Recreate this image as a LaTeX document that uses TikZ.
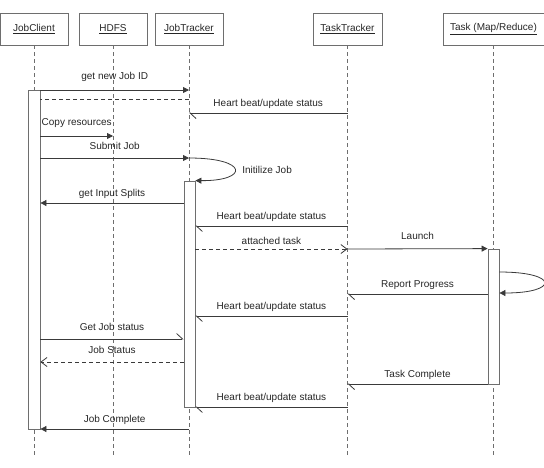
\documentclass[tikz,border=0pt]{standalone}
\usepackage{fontspec}
\setmainfont{Liberation Sans}
\usetikzlibrary{arrows.meta}
\definecolor{linegray}{HTML}{3A3A3A}
\definecolor{boxgray}{HTML}{6E6E6E}
\begin{document}
\begin{tikzpicture}[x=1pt,y=-1pt,font=\fontsize{10}{12}\selectfont,text=black!85,line width=0.8pt,
  actor/.style={draw=boxgray,minimum height=32pt,inner sep=0pt},
  life/.style={dash pattern=on 4pt off 3pt,draw=boxgray},
  bar/.style={draw=boxgray,fill=white,minimum width=11pt,inner sep=0pt},
  call/.style={draw=linegray,-{Triangle[length=6pt,width=6pt]}},
  reply/.style={dash pattern=on 4pt off 3pt,draw=linegray,-{Straight Barb[length=6pt,width=9pt]}},
  beat/.style={draw=linegray,-{Straight Barb[harpoon,length=6pt,width=11pt]}},
  lab/.style={above=4.5pt,inner sep=0pt},
  labhi/.style={above=8.5pt,inner sep=0pt}]
\useasboundingbox (0,0) rectangle (544,467);
% heads
\node[actor,minimum width=68pt] (jc) at (34,29) {\underline{JobClient}};
\node[actor,minimum width=68pt] (hdfs) at (113,29) {\underline{HDFS}};
\node[actor,minimum width=68pt] (jt) at (189,29) {\underline{JobTracker}};
\node[actor,minimum width=69pt] (tt) at (347.5,29) {\underline{TaskTracker}};
\node[actor,minimum width=101pt] (task) at (493.5,29) {\underline{Task (Map/Reduce)}};
% life lines
\foreach \n in {jc,hdfs,jt,tt,task}
  \draw[life] (\n.south) -- (\n |- 0,456);
% activation bars
\node[bar,minimum width=12pt,minimum height=339pt] (jcbar) at (34,259.5) {};
\node[bar,minimum height=226pt] (jtbar) at (189.5,294) {};
\node[bar,minimum height=135pt] (taskbar) at (493.5,316.5) {};
% messages
\draw[call] (jcbar.east |- 0,90) -- node[labhi] {get new Job ID} (jt |- 0,90);
\draw[life,draw=linegray] (jt |- 0,99) -- (jcbar.east |- 0,99);
\draw[beat] (tt |- 0,113) -- node[lab] {Heart beat/update status} (jt |- 0,113);
\draw[call] (jcbar.east |- 0,136) -- node[labhi] {Copy resources} (hdfs |- 0,136);
\draw[call] (jcbar.east |- 0,158) -- node[labhi] {Submit Job} (jt |- 0,158);
\draw[call] (jt |- 0,158) .. controls (249,158) and (249,181) .. (jtbar.north east);
\node[right,inner sep=0pt] (init) at (242,170) {Initilize Job};
\draw[call] (jtbar.west |- 0,203) -- node[lab] {get Input Splits} (jcbar.east |- 0,203);
\draw[beat] (tt |- 0,226) -- node[lab] {Heart beat/update status} (jtbar.east |- 0,226);
\draw[reply] (jtbar.east |- 0,249) -- node[lab] {attached task} (tt |- 0,249);
\draw[call] (tt |- 0,249) -- node[labhi] {Launch} (taskbar.north west);
\draw[call] (taskbar.east |- 0,272) .. controls (559,272) and (559,293) .. (taskbar.east |- 0,293);
\draw[beat] (taskbar.west |- 0,294) -- node[lab] {Report Progress} (tt |- 0,294);
\draw[beat] (tt |- 0,316) -- node[lab] {Heart beat/update status} (jtbar.east |- 0,316);
\draw[beat] (jcbar.east |- 0,339) -- node[labhi] {Get Job status} (jtbar.west |- 0,339);
\draw[reply] (jtbar.west |- 0,362) -- node[labhi] {Job Status} (jcbar.east |- 0,362);
\draw[beat] (taskbar.west |- 0,384) -- node[lab] {Task Complete} (tt |- 0,384);
\draw[beat] (tt |- 0,407) -- node[lab] {Heart beat/update status} (jtbar.east |- 0,407);
\draw[call] (jt |- 0,429) -- node[lab] {Job Complete} (jcbar.east |- 0,429);
\end{tikzpicture}
\end{document}
